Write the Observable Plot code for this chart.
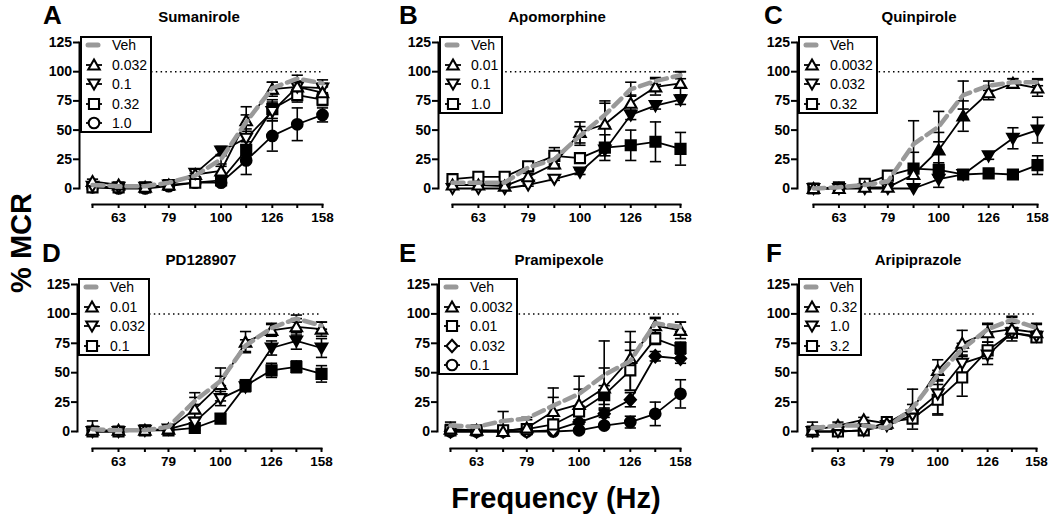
<!DOCTYPE html>
<html><head><meta charset="utf-8">
<script src="https://cdn.jsdelivr.net/npm/d3@7"></script>
<script src="https://cdn.jsdelivr.net/npm/@observablehq/plot@0.6"></script>
<style>
html,body{margin:0;padding:0;background:#fff;}
#root{position:relative;width:1050px;height:518px;overflow:hidden;font-family:"Liberation Sans",Arial,sans-serif;color:#000;}
.panel{position:absolute;}
.legend{position:absolute;border:2px solid #000;background:#fff;padding:0 3px 0 0;}
.legend .rows{margin-top:-2.75px;margin-bottom:-1.75px;}
.legend .row{height:19.5px;display:flex;align-items:center;font-size:14px;white-space:nowrap;}
.legend .row svg{display:block;flex:none;}
.legend .row span{margin-left:8px;}
#overlay{position:absolute;left:0;top:0;}
</style></head><body><div id="root"></div>
<script>
// ---------- data ----------
const freqs = [56, 63, 71, 79, 89, 100, 112, 126, 141, 158];
const freqTickLabels = [63, 79, 100, 126, 158];
const yTicks = [0, 25, 50, 75, 100, 125];

const sumaniroleDoses = ["Veh", "0.032", "0.1", "0.32", "1.0"];
const sumaniroleSymbols = ["veh", "triangle", "triangleDown", "square", "circle"];
const sumaniroleMean = [
  [3, 2, 2, 5, 11, 25, 57, 86, 94, 90],
  [6, 3, 1, 3, 12, 15, 58, 85, 87, 82],
  [2, 1, 1, 3, 13, 32, 43, 66, 87, 86],
  [1, 1, 1, 3, 5, 7, 33, 68, 80, 76],
  [1, 0, 0, 2, 5, 5, 24, 45, 55, 63]
];
const sumaniroleSem = [
  [1, 1, 1, 1, 2, 4, 6, 5, 3, 3],
  [2, 1, 1, 1, 3, 4, 12, 6, 5, 6],
  [1, 1, 1, 1, 3, 4, 6, 8, 4, 4],
  [1, 1, 1, 1, 2, 2, 7, 8, 6, 5],
  [1, 1, 1, 1, 2, 2, 12, 13, 14, 6]
];
const sumaniroleSig = [
  [0, 0, 0, 0, 0, 0, 0, 0, 0, 0],
  [0, 0, 0, 0, 0, 0, 0, 0, 0, 0],
  [0, 0, 0, 0, 0, 1, 0, 0, 0, 0],
  [0, 0, 0, 0, 0, 1, 1, 1, 0, 0],
  [0, 0, 0, 0, 0, 1, 1, 1, 1, 1]
];

const apomorphineDoses = ["Veh", "0.01", "0.1", "1.0"];
const apomorphineSymbols = ["veh", "triangle", "triangleDown", "square"];
const apomorphineMean = [
  [5, 5, 5, 18, 25, 45, 63, 85, 92, 97],
  [3, 3, 2, 10, 21, 48, 55, 73, 87, 90],
  [0, 0, 0, 3, 8, 14, 33, 63, 71, 76],
  [8, 10, 10, 19, 28, 26, 35, 37, 40, 34]
];
const apomorphineSem = [
  [1, 1, 1, 2, 5, 8, 10, 6, 3, 3],
  [2, 2, 2, 3, 4, 9, 20, 7, 7, 10],
  [1, 1, 1, 1, 1, 2, 5, 4, 3, 4],
  [1, 1, 1, 2, 7, 3, 11, 13, 17, 14]
];
const apomorphineSig = [
  [0, 0, 0, 0, 0, 0, 0, 0, 0, 0],
  [0, 0, 0, 0, 0, 0, 0, 0, 0, 0],
  [0, 0, 0, 0, 0, 1, 1, 1, 1, 1],
  [0, 0, 0, 0, 0, 0, 1, 1, 1, 1]
];

const quinpiroleDoses = ["Veh", "0.0032", "0.032", "0.32"];
const quinpiroleSymbols = ["veh", "triangle", "triangleDown", "square"];
const quinpiroleMean = [
  [0, 1, 3, 6, 38, 53, 80, 88, 91, 91],
  [0, 0, 1, 1, 12, 33, 62, 82, 90, 86],
  [0, 0, 0, 0, 0, 8, 12, 28, 43, 50],
  [0, 1, 4, 11, 17, 16, 12, 13, 12, 20]
];
const quinpiroleSem = [
  [0, 0, 1, 1, 20, 13, 12, 4, 3, 3],
  [1, 1, 1, 1, 3, 15, 13, 6, 4, 7],
  [0, 0, 0, 0, 0, 7, 2, 3, 9, 11],
  [0, 1, 1, 2, 14, 6, 2, 2, 2, 8]
];
const quinpiroleSig = [
  [0, 0, 0, 0, 0, 0, 0, 0, 0, 0],
  [0, 0, 0, 0, 0, 1, 1, 0, 0, 0],
  [0, 0, 0, 0, 1, 1, 1, 1, 1, 1],
  [0, 0, 0, 0, 1, 1, 1, 1, 1, 1]
];

const pd128907Doses = ["Veh", "0.01", "0.032", "0.1"];
const pd128907Symbols = ["veh", "triangle", "triangleDown", "square"];
const pd128907Mean = [
  [2, 1, 1, 4, 26, 43, 73, 88, 96, 90],
  [1, 1, 1, 2, 19, 40, 76, 86, 89, 87],
  [0, 0, 1, 2, 8, 28, 38, 71, 77, 71],
  [0, 0, 1, 1, 3, 11, 39, 52, 55, 49]
];
const pd128907Sem = [
  [1, 1, 1, 1, 3, 4, 5, 4, 3, 3],
  [8, 1, 1, 2, 14, 14, 9, 5, 7, 6],
  [1, 1, 1, 1, 4, 6, 4, 6, 7, 8],
  [1, 1, 1, 1, 2, 4, 5, 6, 5, 7]
];
const pd128907Sig = [
  [0, 0, 0, 0, 0, 0, 0, 0, 0, 0],
  [0, 0, 0, 0, 0, 0, 0, 0, 0, 0],
  [0, 0, 0, 0, 0, 0, 1, 1, 1, 1],
  [0, 0, 0, 0, 1, 1, 1, 1, 1, 1]
];

const pramipexoleDoses = ["Veh", "0.0032", "0.01", "0.032", "0.1"];
const pramipexoleSymbols = ["veh", "triangle", "square", "diamond", "circle"];
const pramipexoleMean = [
  [5, 4, 9, 11, 22, 32, 48, 60, 92, 89],
  [2, 1, 0, 3, 17, 23, 37, 62, 90, 86],
  [1, 1, 1, 2, 6, 17, 31, 52, 79, 71],
  [0, 0, 0, 0, 1, 8, 15, 27, 64, 62],
  [0, 0, 0, 0, 0, 1, 5, 8, 15, 32]
];
const pramipexoleSem = [
  [1, 1, 8, 1, 15, 15, 29, 25, 5, 4],
  [6, 1, 1, 3, 12, 13, 17, 14, 6, 7],
  [1, 1, 1, 1, 2, 4, 8, 17, 5, 5],
  [0, 0, 0, 0, 1, 2, 3, 6, 4, 4],
  [0, 0, 0, 0, 0, 1, 1, 5, 10, 12]
];
const pramipexoleSig = [
  [0, 0, 0, 0, 0, 0, 0, 0, 0, 0],
  [0, 0, 0, 0, 0, 0, 0, 0, 0, 0],
  [0, 0, 0, 0, 0, 0, 1, 0, 0, 1],
  [0, 0, 0, 0, 0, 1, 1, 1, 1, 1],
  [0, 0, 0, 0, 1, 1, 1, 1, 1, 1]
];

const aripiprazoleDoses = ["Veh", "0.32", "1.0", "3.2"];
const aripiprazoleSymbols = ["veh", "triangle", "triangleDown", "square"];
const aripiprazoleMean = [
  [3, 5, 5, 3, 20, 48, 70, 87, 95, 88],
  [1, 5, 10, 7, 19, 52, 75, 84, 87, 84],
  [0, 0, 1, 5, 14, 32, 58, 65, 84, 81],
  [0, 0, 1, 8, 11, 27, 46, 69, 84, 80]
];
const aripiprazoleSem = [
  [1, 1, 1, 1, 3, 4, 5, 4, 3, 3],
  [7, 3, 2, 2, 17, 9, 11, 8, 10, 8],
  [1, 1, 1, 1, 3, 17, 10, 8, 3, 4],
  [1, 1, 1, 1, 2, 13, 16, 7, 3, 4]
];
const aripiprazoleSig = [
  [0, 0, 0, 0, 0, 0, 0, 0, 0, 0],
  [0, 0, 0, 0, 0, 0, 0, 0, 0, 0],
  [0, 0, 0, 0, 0, 0, 0, 0, 0, 0],
  [0, 0, 0, 0, 0, 0, 0, 0, 0, 0]
];

const panelLetters = ["A", "B", "C", "D", "E", "F"];
const drugNames = ["Sumanirole", "Apomorphine", "Quinpirole", "PD128907", "Pramipexole", "Aripiprazole"];
const yAxisTitle = "% MCR";
const xAxisTitle = "Frequency (Hz)";

const panels = [
  {doses: sumaniroleDoses, symbols: sumaniroleSymbols, mean: sumaniroleMean, sem: sumaniroleSem, sig: sumaniroleSig},
  {doses: apomorphineDoses, symbols: apomorphineSymbols, mean: apomorphineMean, sem: apomorphineSem, sig: apomorphineSig},
  {doses: quinpiroleDoses, symbols: quinpiroleSymbols, mean: quinpiroleMean, sem: quinpiroleSem, sig: quinpiroleSig},
  {doses: pd128907Doses, symbols: pd128907Symbols, mean: pd128907Mean, sem: pd128907Sem, sig: pd128907Sig},
  {doses: pramipexoleDoses, symbols: pramipexoleSymbols, mean: pramipexoleMean, sem: pramipexoleSem, sig: pramipexoleSig},
  {doses: aripiprazoleDoses, symbols: aripiprazoleSymbols, mean: aripiprazoleMean, sem: aripiprazoleSem, sig: aripiprazoleSig}
];

// ---------- layout ----------
const FONT = "Liberation Sans, Arial, sans-serif";
const PANEL_W = 350, PANEL_H = 240;
const rowGeom = [{top: 0, y125: 42, y0: 188, axisY: 204}, {top: 242, y125: 42, y0: 189, axisY: 206}];
const colGeom = [
  [{left: 0, yAxisX: 79, x0: 92, x1: 322}, {left: 350, yAxisX: 88, x0: 102, x1: 330}, {left: 700, yAxisX: 97, x0: 113, x1: 337}],
  [{left: 0, yAxisX: 77, x0: 92, x1: 321}, {left: 350, yAxisX: 87, x0: 100, x1: 330}, {left: 700, yAxisX: 97, x0: 112, x1: 336}]
];
const letterPos = [[43, 24], [399, 24], [764, 24], [42, 262], [399, 262], [766, 262]];
const titlePos = [[199, 22], [557, 22], [919, 22], [201, 265], [559, 265], [918, 265]];

const VEH_COLOR = "#999999";
const R = 5.6;

// ---------- symbols ----------
const shapes = {
  triangle: {draw(c, s) { const r = Math.sqrt(s / Math.PI); c.moveTo(0, -r * 0.98); c.lineTo(r * 1.02, r * 0.8); c.lineTo(-r * 1.02, r * 0.8); c.closePath(); }},
  triangleDown: {draw(c, s) { const r = Math.sqrt(s / Math.PI); c.moveTo(0, r * 0.98); c.lineTo(r * 1.02, -r * 0.8); c.lineTo(-r * 1.02, -r * 0.8); c.closePath(); }},
  square: {draw(c, s) { const r = Math.sqrt(s / Math.PI) * 0.9; c.rect(-r, -r, 2 * r, 2 * r); }},
  circle: {draw(c, s) { const r = Math.sqrt(s / Math.PI) * 0.95; c.moveTo(r, 0); c.arc(0, 0, r, 0, 2 * Math.PI); }},
  diamond: {draw(c, s) { const r = Math.sqrt(s / Math.PI); c.moveTo(0, -r * 1.12); c.lineTo(r, 0); c.lineTo(0, r * 1.12); c.lineTo(-r, 0); c.closePath(); }}
};
const capShape = {draw(c, s) { const r = Math.sqrt(s / Math.PI); c.moveTo(-r, 0); c.lineTo(r, 0); }};

function shapePath(name, r) {
  const p = d3.path();
  shapes[name].draw(p, Math.PI * r * r);
  return p.toString();
}

const root = document.getElementById("root");

panels.forEach((p, pi) => {
  const row = Math.floor(pi / 3), col = pi % 3;
  const rg = rowGeom[row], cg = colGeom[row][col];

  const series = p.doses.map((dose, si) => freqs.map((f, j) => ({
    f, v: p.mean[si][j], e: p.sem[si][j], sig: p.sig[si][j], dose
  })));

  const marks = [
    Plot.ruleY([100], {stroke: "black", strokeWidth: 1.5, strokeDasharray: "1.5,3.3"}),
    Plot.frame({anchor: "left", insetBottom: rg.axisY - rg.y0, stroke: "black", strokeWidth: 2}),
    Plot.frame({anchor: "bottom", insetLeft: cg.x0 - cg.yAxisX, stroke: "black", strokeWidth: 2}),
    Plot.axisY({anchor: "left", ticks: yTicks, tickSize: 6, tickPadding: 1.5, label: null,
      fontSize: 14, fontWeight: "bold", fontFamily: FONT, stroke: "black", strokeWidth: 2, fill: "black"}),
    Plot.axisX({anchor: "bottom", ticks: freqs, tickFormat: d => freqTickLabels.includes(d) ? String(d) : "",
      tickSize: 4, tickPadding: 3.5, label: null, fontSize: 13.5, fontWeight: "bold", fontFamily: FONT,
      stroke: "black", strokeWidth: 2, fill: "black"})
  ];

  // error bars (all series)
  series.forEach(s => {
    const eb = s.filter(d => d.e > 0);
    marks.push(
      Plot.ruleX(eb, {x: "f", y1: d => Math.max(0, d.v - d.e), y2: d => d.v + d.e, stroke: "black", strokeWidth: 1.6}),
      Plot.dot(eb, {x: "f", y: d => d.v + d.e, symbol: capShape, r: R, fill: "none", stroke: "black", strokeWidth: 1.6}),
      Plot.dot(eb.filter(d => d.v - d.e > 0), {x: "f", y: d => d.v - d.e, symbol: capShape, r: R, fill: "none", stroke: "black", strokeWidth: 1.6})
    );
  });

  // dose series, last drawn first
  for (let si = series.length - 1; si >= 1; si--) {
    const s = series[si];
    const shape = shapes[p.symbols[si]];
    marks.push(
      Plot.line(s, {x: "f", y: "v", stroke: "black", strokeWidth: 1.8}),
      Plot.dot(s.filter(d => !d.sig), {x: "f", y: "v", symbol: shape, r: R, fill: "white", stroke: "black", strokeWidth: 2.1}),
      Plot.dot(s.filter(d => d.sig), {x: "f", y: "v", symbol: shape, r: R, fill: "black", stroke: "black", strokeWidth: 2.1})
    );
  }
  // vehicle on top
  marks.push(Plot.line(series[0], {x: "f", y: "v", stroke: VEH_COLOR, strokeWidth: 4.5, strokeDasharray: "11,6"}));

  const chart = Plot.plot({
    width: PANEL_W, height: PANEL_H,
    marginLeft: cg.yAxisX, marginRight: PANEL_W - cg.x1,
    marginTop: rg.y125, marginBottom: PANEL_H - rg.axisY,
    x: {type: "log", domain: [freqs[0], freqs[freqs.length - 1]], range: [cg.x0, cg.x1]},
    y: {type: "linear", domain: [0, 125], range: [rg.y0, rg.y125]},
    style: {background: "transparent", overflow: "visible", fontFamily: FONT, fontSize: "14px", color: "black"},
    marks
  });
  const wrap = document.createElement("div");
  wrap.className = "panel";
  wrap.style.left = cg.left + "px";
  wrap.style.top = rg.top + "px";
  wrap.appendChild(chart);
  root.appendChild(wrap);

  // legend
  const lg = document.createElement("div");
  lg.className = "legend";
  lg.style.left = (cg.left + cg.yAxisX + 1) + "px";
  lg.style.top = (rg.top + rg.y125 - 6) + "px";
  let html = '<div class="rows">';
  p.doses.forEach((dose, si) => {
    let sym;
    if (p.symbols[si] === "veh") {
      sym = `<svg width="22" height="16"><line x1="6" x2="16" y1="8" y2="8" stroke="${VEH_COLOR}" stroke-width="5" stroke-linecap="round"/></svg>`;
    } else {
      sym = `<svg width="22" height="16"><line x1="4" x2="20" y1="8" y2="8" stroke="black" stroke-width="1.8"/>` +
        `<path transform="translate(12,8)" d="${shapePath(p.symbols[si], R)}" fill="white" stroke="black" stroke-width="2.1"/></svg>`;
    }
    html += `<div class="row">${sym}<span>${dose}</span></div>`;
  });
  html += '</div>';
  lg.innerHTML = html;
  root.appendChild(lg);
});

// overlay text: panel letters, titles, axis titles
const ns = "http://www.w3.org/2000/svg";
const ov = document.createElementNS(ns, "svg");
ov.setAttribute("id", "overlay");
ov.setAttribute("width", 1050);
ov.setAttribute("height", 518);
ov.setAttribute("font-family", FONT);
ov.setAttribute("font-weight", "bold");
function addText(txt, x, y, size, anchor, transform) {
  const t = document.createElementNS(ns, "text");
  t.setAttribute("x", x); t.setAttribute("y", y);
  t.setAttribute("font-size", size);
  t.setAttribute("text-anchor", anchor);
  if (transform) t.setAttribute("transform", transform);
  t.textContent = txt;
  ov.appendChild(t);
}
panelLetters.forEach((l, i) => addText(l, letterPos[i][0], letterPos[i][1], 26, "start"));
drugNames.forEach((n, i) => addText(n, titlePos[i][0], titlePos[i][1], 15, "middle"));
addText(yAxisTitle, 0, 0, 29, "middle", "translate(31,243) rotate(-90)");
addText(xAxisTitle, 556, 508, 29, "middle");
root.appendChild(ov);
</script>
</body></html>
